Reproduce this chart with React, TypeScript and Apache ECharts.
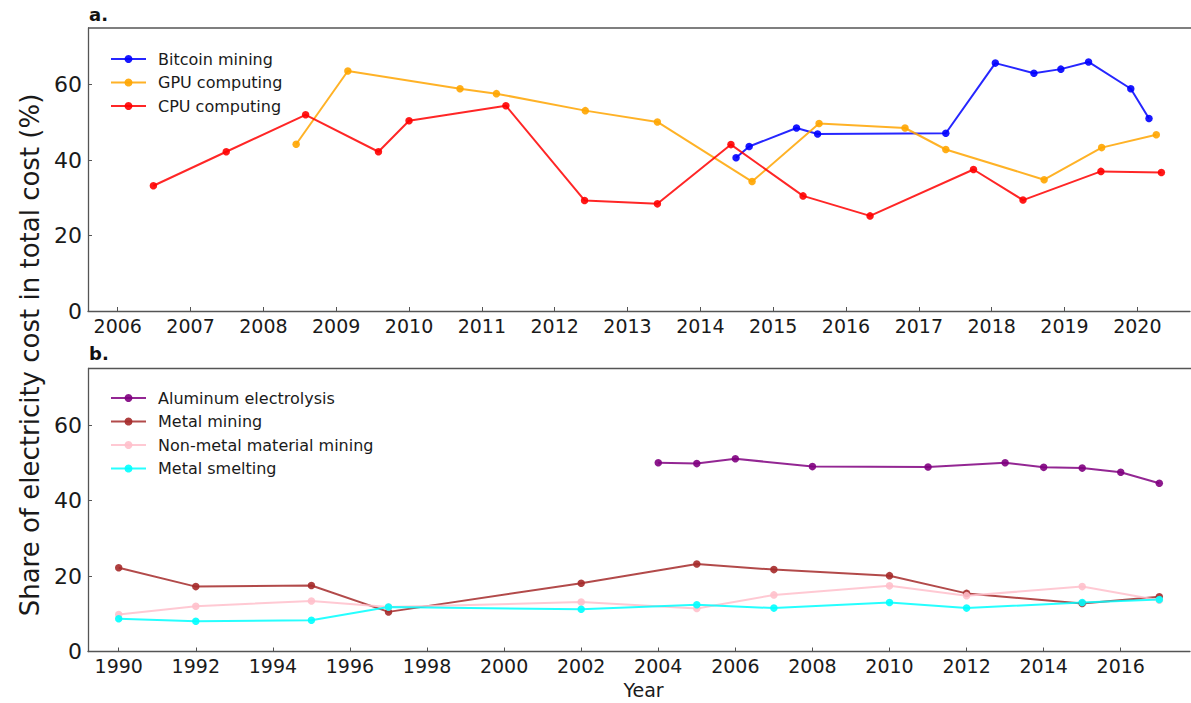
import React, { useEffect, useRef } from "react";
import * as echarts from "echarts";

// ---- Panel a ----
const btcYears = [2014.49, 2014.67, 2015.32, 2015.61, 2017.37, 2018.05, 2018.58, 2018.95, 2019.33, 2019.91, 2020.16];
const btcVals = [40.6, 43.6, 48.5, 46.9, 47.1, 65.7, 63.0, 64.1, 66.0, 58.9, 51.0];
const gpuYears = [2008.45, 2009.16, 2010.7, 2011.2, 2012.42, 2013.41, 2014.71, 2015.63, 2016.81, 2017.37, 2018.72, 2019.51, 2020.26];
const gpuVals = [44.2, 63.6, 58.9, 57.6, 53.1, 50.1, 34.3, 49.7, 48.5, 42.8, 34.8, 43.3, 46.7];
const cpuYears = [2006.49, 2007.49, 2008.58, 2009.58, 2010.0, 2011.33, 2012.41, 2013.41, 2014.42, 2015.41, 2016.33, 2017.75, 2018.43, 2019.5, 2020.33];
const cpuVals = [33.2, 42.2, 52.0, 42.2, 50.4, 54.4, 29.3, 28.4, 44.1, 30.5, 25.2, 37.5, 29.4, 37.0, 36.7];

// ---- Panel b ----
const aluYears = [2004, 2005, 2006, 2008, 2011, 2013, 2014, 2015, 2016, 2017];
const aluVals = [50.0, 49.8, 51.1, 49.0, 48.9, 50.0, 48.8, 48.6, 47.5, 44.6];
const indYears = [1990, 1992, 1995, 1997, 2002, 2005, 2007, 2010, 2012, 2015, 2017];
const metalMiningVals = [22.2, 17.2, 17.5, 10.5, 18.1, 23.2, 21.7, 20.1, 15.4, 12.7, 14.5];
const nonMetalVals = [9.8, 12.0, 13.4, 11.8, 13.1, 11.4, 15.0, 17.4, 14.8, 17.2, 13.6];
const smeltingVals = [8.7, 8.0, 8.3, 11.8, 11.2, 12.4, 11.5, 13.0, 11.5, 13.0, 13.8];

const topTicks = [2006, 2007, 2008, 2009, 2010, 2011, 2012, 2013, 2014, 2015, 2016, 2017, 2018, 2019, 2020];
const bottomTicks = [1990, 1992, 1994, 1996, 1998, 2000, 2002, 2004, 2006, 2008, 2010, 2012, 2014, 2016];
const yTicks = [0, 20, 40, 60];

const topNames = ["Bitcoin mining", "GPU computing", "CPU computing"];
const bottomNames = ["Aluminum electrolysis", "Metal mining", "Non-metal material mining", "Metal smelting"];

const FONT = "DejaVu Sans";
const SPINE = "#555";

const zip = (xs: number[], ys: number[]) => xs.map((x, i) => [x, ys[i]]);

function mkSeries(name: string, color: string, xs: number[], ys: number[], idx: number) {
  return {
    type: "line",
    name,
    xAxisIndex: idx,
    yAxisIndex: idx,
    data: zip(xs, ys),
    symbol: "circle",
    symbolSize: 7.5,
    showSymbol: true,
    lineStyle: { color, width: 2, opacity: 0.85 },
    itemStyle: { color, opacity: 0.9 },
    emphasis: { disabled: true },
  };
}

export default function App() {
  const ref = useRef<HTMLDivElement>(null);
  useEffect(() => {
    if (!ref.current) return;
    const chart = echarts.init(ref.current, undefined, { renderer: "svg" });
    const xAxisBase = (min: number, max: number, ticks: number[]) => ({
      type: "value",
      min,
      max,
      axisLine: { show: true, lineStyle: { color: SPINE, width: 1.3 } },
      axisTick: { show: true, inside: true, length: 4, lineStyle: { color: SPINE, width: 1 }, customValues: ticks },
      axisLabel: {
        fontFamily: FONT,
        fontSize: 19,
        color: "#1a1a1a",
        margin: 5,
        customValues: ticks,
        formatter: (v: number) => String(Math.round(v)),
      },
      splitLine: { show: false },
    });
    const yAxisBase = () => ({
      type: "value",
      min: 0,
      max: 75,
      axisLine: { show: true, lineStyle: { color: SPINE, width: 1.3 } },
      axisTick: { show: true, inside: true, length: 4, lineStyle: { color: SPINE, width: 1 }, customValues: yTicks },
      axisLabel: { fontFamily: FONT, fontSize: 22, color: "#1a1a1a", margin: 6, customValues: yTicks },
      splitLine: { show: false },
    });
    const legendBase = (data: string[], top: number) => ({
      data,
      orient: "vertical",
      left: 110,
      top,
      padding: 0,
      itemWidth: 35,
      itemHeight: 10,
      itemGap: 7.5,
      selectedMode: false,
      textStyle: { fontFamily: FONT, fontSize: 16, color: "#1a1a1a", lineHeight: 16, padding: [0, 0, 0, 7] },
    });
    const topSpine = (y: number) => ({
      type: "line",
      shape: { x1: 88, y1: y, x2: 1191, y2: y },
      style: { stroke: SPINE, lineWidth: 1.3 },
      silent: true,
    });
    chart.setOption({
      animation: false,
      backgroundColor: "#fff",
      grid: [
        { left: 88, width: 1102, top: 28, height: 283 },
        { left: 88, width: 1102, top: 368.5, height: 283 },
      ],
      xAxis: [
        { ...xAxisBase(2005.592, 2020.723, topTicks), gridIndex: 0 },
        { ...xAxisBase(1989.203, 2017.797, bottomTicks), gridIndex: 1 },
      ],
      yAxis: [
        { ...yAxisBase(), gridIndex: 0 },
        { ...yAxisBase(), gridIndex: 1 },
      ],
      legend: [legendBase(topNames, 51), legendBase(bottomNames, 390)],
      graphic: [
        topSpine(28),
        topSpine(368.5),
        {
          type: "text",
          x: 30,
          y: 355,
          rotation: Math.PI / 2,
          style: {
            text: "Share of electricity cost in total cost (%)",
            fontFamily: FONT,
            fontSize: 26,
            fill: "#1a1a1a",
            align: "center",
            verticalAlign: "middle",
          },
        },
        {
          type: "text",
          x: 643.5,
          y: 690,
          style: { text: "Year", fontFamily: FONT, fontSize: 19, fill: "#1a1a1a", align: "center", verticalAlign: "middle" },
        },
        {
          type: "text",
          x: 89,
          y: 14,
          style: { text: "a.", fontFamily: FONT, fontSize: 18, fontWeight: "bold", fill: "#111", align: "left", verticalAlign: "middle" },
        },
        {
          type: "text",
          x: 89,
          y: 353,
          style: { text: "b.", fontFamily: FONT, fontSize: 18, fontWeight: "bold", fill: "#111", align: "left", verticalAlign: "middle" },
        },
      ],
      series: [
        mkSeries(topNames[0], "#0000ff", btcYears, btcVals, 0),
        mkSeries(topNames[1], "#ffa500", gpuYears, gpuVals, 0),
        mkSeries(topNames[2], "#ff0000", cpuYears, cpuVals, 0),
        mkSeries(bottomNames[0], "#800080", aluYears, aluVals, 1),
        mkSeries(bottomNames[1], "#a52a2a", indYears, metalMiningVals, 1),
        mkSeries(bottomNames[2], "#ffc0cb", indYears, nonMetalVals, 1),
        mkSeries(bottomNames[3], "#00ffff", indYears, smeltingVals, 1),
      ],
    });
    return () => chart.dispose();
  }, []);
  return (
    <div style={{ position: "fixed", left: 0, top: 0, width: 1191, height: 703, background: "#fff" }}>
      <div ref={ref} style={{ width: 1191, height: 703 }} />
    </div>
  );
}
